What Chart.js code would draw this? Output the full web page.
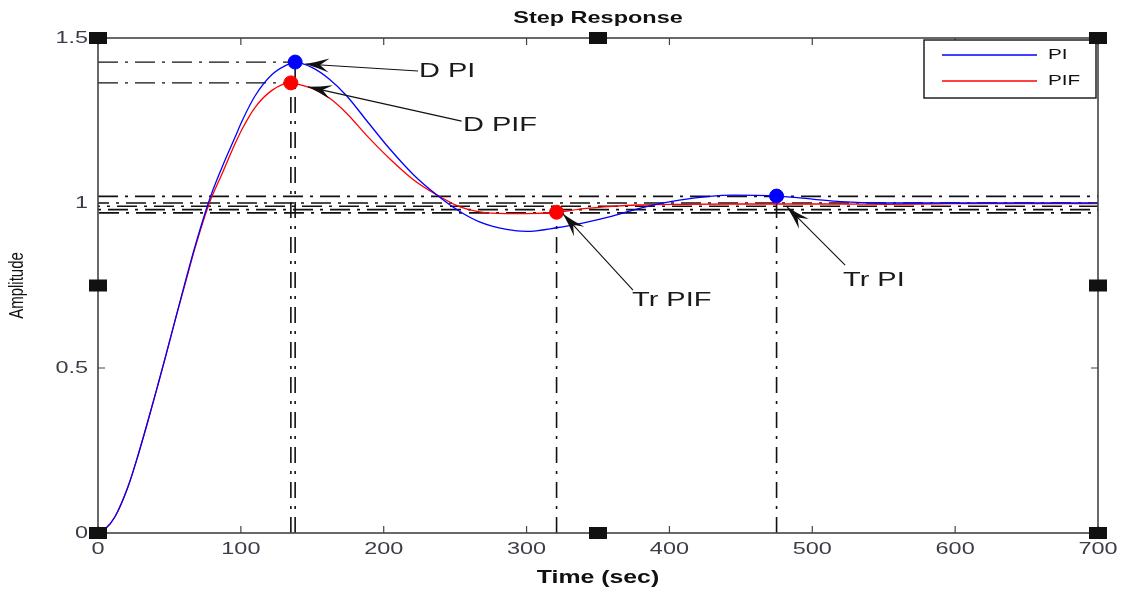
<!DOCTYPE html>
<html>
<head>
<meta charset="utf-8">
<title>Step Response</title>
<script src="https://cdn.jsdelivr.net/npm/chart.js@4.4.1/dist/chart.umd.min.js"></script>
<style>
  html, body { margin: 0; padding: 0; background: #fff; }
  #wrap { width: 1121px; height: 592px; }
</style>
</head>
<body>
<div id="wrap"><canvas id="stepChart"></canvas></div>
<script>
// step response samples
const timeSec = [0, 5, 12, 21, 28, 35, 42, 47, 54, 61, 68, 78, 87, 96, 101, 110, 122, 135, 138, 150,
  162, 174, 188, 204, 221, 237, 253, 267, 286, 300, 321, 340, 360, 379, 407, 445, 475, 500, 520, 550,
  600, 650, 700];
const ampPI = [0, 0.012, 0.05, 0.14, 0.235, 0.34, 0.45, 0.53, 0.645, 0.76, 0.87, 1.01, 1.11, 1.2, 1.25, 1.325, 1.39, 1.424, 1.427, 1.41,
  1.375, 1.325, 1.25, 1.165, 1.085, 1.025, 0.975, 0.943, 0.92, 0.914, 0.925, 0.94, 0.96, 0.984, 1.009, 1.024, 1.021, 1.012, 1.004, 1.0,
  1.0, 1.0, 1.0];
const ampPIF = [0, 0.012, 0.05, 0.14, 0.235, 0.34, 0.45, 0.53, 0.645, 0.755, 0.865, 1.0, 1.09, 1.18, 1.225, 1.29, 1.342, 1.364, 1.362, 1.347,
  1.318, 1.272, 1.205, 1.135, 1.07, 1.025, 0.989, 0.973, 0.968, 0.968, 0.972, 0.983, 0.99, 0.994, 0.996, 0.997, 0.997, 0.997, 0.997, 0.996,
  0.998, 0.998, 0.998];

const xTicks = [0, 100, 200, 300, 400, 500, 600, 700];
const yTicks = [0, 0.5, 1, 1.5];

// peak (D) and settling (Tr) markers
const piMarks = [{ x: 138, y: 1.427 }, { x: 475, y: 1.021 }];
const pifMarks = [{ x: 135, y: 1.364 }, { x: 321, y: 0.972 }];
const bandLevels = [1.02, 1.0, 0.99, 0.98, 0.97];

const notes = [
  { label: 'D PI', textAt: [224.7, 1.40], tail: [224, 1.40], tip: [145, 1.421] },
  { label: 'D PIF', textAt: [255.5, 1.236], tail: [254.5, 1.248], tip: [147, 1.352] },
  { label: 'Tr PIF', textAt: [373.8, 0.706], tail: [374.5, 0.736], tip: [325.5, 0.967] },
  { label: 'Tr PI', textAt: [521.5, 0.767], tail: [523, 0.812], tip: [482.3, 0.988] }
];

const STRETCH = 1.38;

function wideText(ctx, txt, x, y, font, align, base, sx) {
  ctx.save();
  ctx.font = font;
  ctx.textAlign = align;
  ctx.textBaseline = base;
  ctx.translate(x, y);
  ctx.scale(sx, 1);
  ctx.fillText(txt, 0, 0);
  ctx.restore();
}

function arrowHead(ctx, tx, ty, fx, fy) {
  const a = Math.atan2(ty - fy, tx - fx);
  const L = 24, W = 7;
  ctx.save();
  ctx.translate(tx, ty);
  ctx.rotate(a);
  ctx.beginPath();
  ctx.moveTo(0, 0);
  ctx.quadraticCurveTo(-L * 0.5, -W * 0.4, -L, -W);
  ctx.lineTo(-L * 0.62, 0);
  ctx.lineTo(-L, W);
  ctx.quadraticCurveTo(-L * 0.5, W * 0.4, 0, 0);
  ctx.closePath();
  ctx.fill();
  ctx.restore();
}

const dashDot = [20, 7, 3, 7];
const refSets = [];
// vertical drop lines and horizontal peak lines
[...piMarks, ...pifMarks].forEach(p => {
  refSets.push({ type: 'line', data: [{ x: p.x, y: 0 }, { x: p.x, y: p.y }], borderColor: '#111', borderWidth: 1.6,
    borderDash: [16, 8, 3, 8], pointRadius: 0, fill: false });
});
[piMarks[0], pifMarks[0]].forEach(p => {
  refSets.push({ type: 'line', data: [{ x: 0, y: p.y }, { x: p.x, y: p.y }], borderColor: '#111', borderWidth: 1.4,
    borderDash: dashDot, pointRadius: 0, fill: false });
});
bandLevels.forEach((lv, i) => {
  refSets.push({ type: 'line', data: [{ x: 0, y: lv }, { x: 700, y: lv }], borderColor: '#111', borderWidth: 1.6,
    borderDash: dashDot, borderDashOffset: i * 9, pointRadius: 0, fill: false });
});

const decorPlugin = {
  id: 'decor',
  afterDraw(chart) {
    const ctx = chart.ctx;
    const ca = chart.chartArea;
    const xs = chart.scales.x, ys = chart.scales.y;

    // annotations
    ctx.save();
    ctx.strokeStyle = '#111';
    ctx.fillStyle = '#111';
    ctx.lineWidth = 1.1;
    notes.forEach(n => {
      const tx = xs.getPixelForValue(n.tip[0]), ty = ys.getPixelForValue(n.tip[1]);
      const fx = xs.getPixelForValue(n.tail[0]), fy = ys.getPixelForValue(n.tail[1]);
      ctx.beginPath();
      ctx.moveTo(fx, fy);
      ctx.lineTo(tx, ty);
      ctx.stroke();
      arrowHead(ctx, tx, ty, fx, fy);
      ctx.fillStyle = '#1a1a1a';
      wideText(ctx, n.label, xs.getPixelForValue(n.textAt[0]), ys.getPixelForValue(n.textAt[1]),
        '21px "Liberation Sans", Arial, sans-serif', 'left', 'middle', STRETCH);
      ctx.fillStyle = '#111';
    });
    ctx.restore();

    // axes box and inward ticks
    ctx.save();
    ctx.strokeStyle = '#444';
    ctx.lineWidth = 1.6;
    ctx.strokeRect(ca.left, ca.top, ca.right - ca.left, ca.bottom - ca.top);
    ctx.lineWidth = 1.2;
    ctx.beginPath();
    xs.ticks.forEach(t => {
      const px = xs.getPixelForValue(t.value);
      ctx.moveTo(px, ca.bottom); ctx.lineTo(px, ca.bottom - 7);
      ctx.moveTo(px, ca.top); ctx.lineTo(px, ca.top + 7);
    });
    ys.ticks.forEach(t => {
      const py = ys.getPixelForValue(t.value);
      ctx.moveTo(ca.left, py); ctx.lineTo(ca.left + 7, py);
      ctx.moveTo(ca.right, py); ctx.lineTo(ca.right - 7, py);
    });
    ctx.stroke();

    // tick labels
    ctx.fillStyle = '#3d3d4a';
    xs.ticks.forEach(t => {
      wideText(ctx, String(t.value), xs.getPixelForValue(t.value), ca.bottom + 16,
        '17px "Liberation Sans", Arial, sans-serif', 'center', 'middle', STRETCH);
    });
    ys.ticks.forEach(t => {
      wideText(ctx, String(t.value), ca.left - 10, ys.getPixelForValue(t.value),
        '17px "Liberation Sans", Arial, sans-serif', 'right', 'middle', STRETCH);
    });

    // titles
    ctx.fillStyle = '#111';
    wideText(ctx, 'Step Response', (ca.left + ca.right) / 2, 18,
      'bold 17px "Liberation Sans", Arial, sans-serif', 'center', 'middle', STRETCH);
    wideText(ctx, 'Time (sec)', (ca.left + ca.right) / 2, 578,
      'bold 18px "Liberation Sans", Arial, sans-serif', 'center', 'middle', STRETCH);
    ctx.save();
    ctx.translate(18, (ca.top + ca.bottom) / 2);
    ctx.rotate(-Math.PI / 2);
    ctx.scale(1, 1.3);
    ctx.font = '15px "Liberation Sans", Arial, sans-serif';
    ctx.textAlign = 'center';
    ctx.textBaseline = 'middle';
    ctx.fillText('Amplitude', 0, 0);
    ctx.restore();

    // legend
    const bx = ca.right - 174, by = ca.top + 2, bw = 172, bh = 58;
    ctx.fillStyle = '#fff';
    ctx.fillRect(bx, by, bw, bh);
    ctx.strokeStyle = '#222';
    ctx.lineWidth = 1.5;
    ctx.strokeRect(bx, by, bw, bh);
    [chart.data.datasets[2], chart.data.datasets[3]].forEach((ds, i) => {
      const ly = by + 15 + i * 26;
      ctx.strokeStyle = ds.borderColor;
      ctx.lineWidth = 1.3;
      ctx.beginPath();
      ctx.moveTo(bx + 18, ly);
      ctx.lineTo(bx + 113, ly);
      ctx.stroke();
      ctx.fillStyle = '#111';
      wideText(ctx, ds.label, bx + 124, ly, '15px "Liberation Sans", Arial, sans-serif', 'left', 'middle', STRETCH);
    });

    // selection handles
    ctx.fillStyle = '#111';
    const hx = [ca.left, (ca.left + ca.right) / 2, ca.right];
    const hy = [ca.top, (ca.top + ca.bottom) / 2, ca.bottom];
    hx.forEach((x, i) => hy.forEach((y, j) => {
      if (i === 1 && j === 1) return;
      ctx.fillRect(x - 9, y - 6, 18, 12);
    }));
    ctx.restore();
  }
};

const ctx = document.getElementById('stepChart').getContext('2d');
new Chart(ctx, {
  type: 'line',
  data: {
    datasets: [
      { label: 'PI marks', type: 'scatter', data: piMarks, backgroundColor: '#0000ff', borderColor: '#0000ff',
        pointRadius: 7, pointHoverRadius: 7 },
      { label: 'PIF marks', type: 'scatter', data: pifMarks, backgroundColor: '#ff0000', borderColor: '#ff0000',
        pointRadius: 7, pointHoverRadius: 7 },
      { label: 'PI', data: timeSec.map((t, i) => ({ x: t, y: ampPI[i] })), borderColor: '#0000ff', borderWidth: 1.3,
        pointRadius: 0, cubicInterpolationMode: 'monotone', fill: false },
      { label: 'PIF', data: timeSec.map((t, i) => ({ x: t, y: ampPIF[i] })), borderColor: '#ff0000', borderWidth: 1.3,
        pointRadius: 0, cubicInterpolationMode: 'monotone', fill: false },
      ...refSets
    ]
  },
  options: {
    responsive: true,
    maintainAspectRatio: false,
    animation: false,
    layout: { padding: { top: 38, right: 23, left: 0, bottom: 0 } },
    scales: {
      x: {
        type: 'linear', min: 0, max: 700,
        ticks: { display: false, stepSize: 100 },
        grid: { display: false },
        border: { display: false },
        afterFit: s => { s.height = 59; }
      },
      y: {
        type: 'linear', min: 0, max: 1.5,
        ticks: { display: false, stepSize: 0.5 },
        grid: { display: false },
        border: { display: false },
        afterFit: s => { s.width = 98; }
      }
    },
    plugins: {
      legend: { display: false },
      title: { display: false },
      tooltip: { enabled: false }
    }
  },
  plugins: [decorPlugin]
});
</script>
</body>
</html>
